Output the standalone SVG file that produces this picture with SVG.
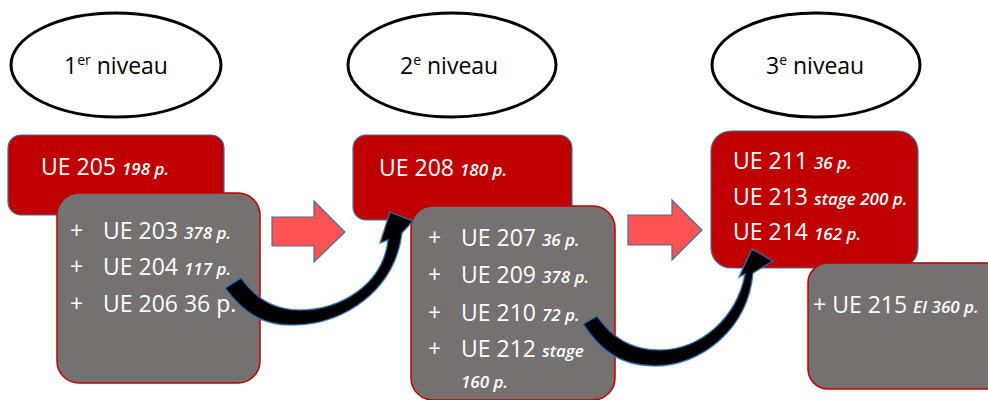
<svg xmlns="http://www.w3.org/2000/svg" width="988" height="400" viewBox="0 0 988 400">
<style>
.lvl{fill:#fff;stroke:#000;stroke-width:3}
.lt{font-family:"Open Sans","Liberation Sans",sans-serif;font-size:23px;fill:#000}
.red{fill:#C00000;stroke:#41719C;stroke-width:1.2}
.gray{fill:#767171;stroke:#C00000;stroke-width:1.5}
.t{font-family:"Open Sans","Liberation Sans",sans-serif;font-size:23px;fill:#fff}
.s{font-size:17px;font-style:italic;font-weight:600}
.blk{fill:#FF5353;stroke:#41719C;stroke-width:1.2}
.crv{fill:#000;stroke:#2E75B6;stroke-width:1.5;stroke-opacity:0.8}
</style>
<rect width="988" height="400" fill="#fff"/>
<g id="niveau1">
<ellipse class="lvl" cx="116" cy="65" rx="105" ry="52"/>
<text class="lt" x="64" y="74">1<tspan font-size="14" dy="-9">er</tspan><tspan dy="9"> niveau</tspan></text>
</g>
<g id="niveau2">
<ellipse class="lvl" cx="452" cy="65" rx="104" ry="52"/>
<text class="lt" x="400" y="74">2<tspan font-size="14" dy="-9">e</tspan><tspan dy="9"> niveau</tspan></text>
</g>
<g id="niveau3">
<ellipse class="lvl" cx="816" cy="65" rx="104" ry="52"/>
<text class="lt" x="766" y="74">3<tspan font-size="14" dy="-9">e</tspan><tspan dy="9"> niveau</tspan></text>
</g>
<g id="ue205">
<rect class="red" x="8" y="135" width="216" height="80" rx="13"/>
<text class="t" x="41" y="175">UE 205 <tspan class="s">198 p.</tspan></text>
</g>
<g id="groupe1">
<rect class="gray" x="57" y="193" width="203" height="190" rx="22"/>
<text class="t" x="70" y="239">+ <tspan x="103">UE 203 </tspan><tspan class="s">378 p.</tspan></text>
<text class="t" x="70" y="275">+ <tspan x="103">UE 204 </tspan><tspan class="s">117 p.</tspan></text>
<text class="t" x="70" y="312">+ <tspan x="103">UE 206 36 p.</tspan></text>
</g>
<g id="ue208">
<rect class="red" x="353" y="135" width="219" height="85" rx="13"/>
<text class="t" x="379" y="176">UE 208 <tspan class="s">180 p.</tspan></text>
</g>
<g id="groupe2">
<rect class="gray" x="411" y="206" width="204" height="194" rx="22"/>
<text class="t" x="428" y="246">+ <tspan x="461">UE 207 </tspan><tspan class="s">36 p.</tspan></text>
<text class="t" x="428" y="283">+ <tspan x="461">UE 209 </tspan><tspan class="s">378 p.</tspan></text>
<text class="t" x="428" y="321">+ <tspan x="461">UE 210 </tspan><tspan class="s">72 p.</tspan></text>
<text class="t" x="428" y="357">+ <tspan x="461">UE 212 </tspan><tspan class="s">stage</tspan></text>
<text class="t s" x="461" y="388">160 p.</text>
</g>
<g id="niveau3-ue">
<rect class="red" x="711" y="131" width="207" height="137" rx="20"/>
<text class="t" x="733" y="169">UE 211 <tspan class="s">36 p.</tspan></text>
<text class="t" x="733" y="205">UE 213 <tspan class="s">stage 200 p.</tspan></text>
<text class="t" x="733" y="240">UE 214 <tspan class="s">162 p.</tspan></text>
</g>
<g id="ue215">
<rect class="gray" x="808" y="263" width="200" height="126" rx="20"/>
<text class="t" x="813" y="313">+ UE 215 <tspan class="s">EI 360 p.</tspan></text>
</g>
<g id="connectors">
<path class="blk" d="M272,217 L314,217 L314,201 L345,232 L314,262 L314,246 L272,246 Z"/>
<path class="blk" d="M628,215 L672,215 L672,200 L702,230 L672,260 L672,245 L628,245 Z"/>
<path class="crv" d="M225,288 C245,315 265,326 295,325 C345,324 395,290 402,233 L413,221 L390,212 L380,243 L388,240 C383,285 340,310 300,310 C272,310 255,297 241,278 Z"/>
<path class="crv" d="M583,324 C600,350 620,366 655,366 C700,366 748,330 753,273 L773,261 L752,249 L739,277 L745,274 C737,318 700,350 660,350 C630,350 612,337 597,316 Z"/>
</g>
</svg>
